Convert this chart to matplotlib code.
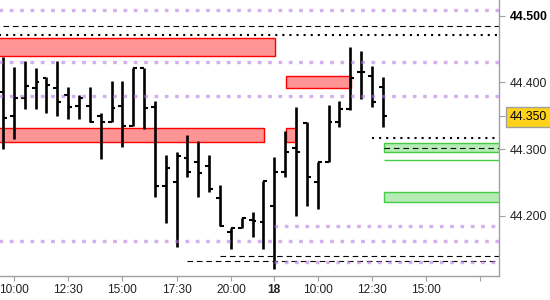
import matplotlib
matplotlib.use("Agg")
import matplotlib.pyplot as plt
from matplotlib.patches import Rectangle

plt.rcParams['font.family'] = ['Liberation Sans', 'DejaVu Sans']

# Barras de 30 minutos (apertura, maximo, minimo, cierre)
apertura = [44.385, 44.349, 44.376, 44.391, 44.406, 44.391, 44.381, 44.364, 44.364, 44.349,
            44.340, 44.364, 44.335, 44.421, 44.363, 44.244, 44.250, 44.286, 44.280, 44.274,
            44.226, 44.175, 44.181, 44.193, 44.190, 44.214, 44.265, 44.302, 44.339, 44.250,
            44.280, 44.340, 44.360, 44.416, 44.410, 44.393]
maximo = [44.438, 44.423, 44.432, 44.421, 44.408, 44.432, 44.393, 44.381, 44.393, 44.354,
          44.402, 44.402, 44.421, 44.421, 44.372, 44.291, 44.296, 44.321, 44.312, 44.291,
          44.246, 44.181, 44.196, 44.205, 44.252, 44.288, 44.327, 44.363, 44.340, 44.280,
          44.366, 44.372, 44.453, 44.447, 44.424, 44.408]
minimo = [44.300, 44.315, 44.360, 44.360, 44.354, 44.349, 44.345, 44.345, 44.340, 44.285,
          44.340, 44.303, 44.335, 44.330, 44.228, 44.189, 44.153, 44.258, 44.228, 44.235,
          44.184, 44.150, 44.181, 44.168, 44.150, 44.120, 44.258, 44.199, 44.214, 44.210,
          44.280, 44.333, 44.358, 44.375, 44.363, 44.333]
cierre = [44.346, 44.376, 44.394, 44.400, 44.396, 44.370, 44.363, 44.376, 44.340, 44.340,
          44.361, 44.335, 44.421, 44.361, 44.244, 44.271, 44.290, 44.265, 44.264, 44.240,
          44.184, 44.181, 44.196, 44.192, 44.252, 44.265, 44.296, 44.296, 44.258, 44.280,
          44.340, 44.360, 44.406, 44.416, 44.370, 44.350]

# Etiquetas del eje x (indice de barra)
pos_tiempo = [1, 6, 11, 16, 21, 25, 29, 34, 39, 44]
etq_tiempo = ['10:00', '12:30', '15:00', '17:30', '20:00', '18', '10:00', '12:30', '15:00', '']

# Niveles horizontales (precio, barra de inicio)
niveles_lila = [44.5086, 44.430, 44.379, 44.162, 44.184, 44.130]
inicio_lila = [-1, -1, -1, -1, 25, 25]
niveles_guion = [44.4845, 44.301, 44.140, 44.132]
inicio_guion = [0, 35.1, 20, 17]
niveles_punto = [44.471, 44.317]
inicio_punto = [-1, 34]

# Zonas (inicio, fin, arriba, abajo)
zonas_rojas = [(-1, 25.07, 44.4665, 44.4395),
               (-1, 24.05, 44.3315, 44.3105),
               (26.05, 32.07, 44.4095, 44.391),
               (26.05, 27.0, 44.3315, 44.3105)]
zonas_verdes = [(35.1, 47, 44.3095, 44.2958),
                (35.1, 47, 44.283, 44.283),
                (35.1, 47, 44.235, 44.220)]

precio_actual = 44.350

fig = plt.figure(figsize=(5.5, 3), dpi=100)
ax = fig.add_axes([0, 24 / 300, 499 / 550, 276 / 300])
x_max = 45.71
ax.set_xlim(-0.28, x_max)
ax.set_ylim(44.1096, 44.5235)

for (x0, x1, y_top, y_bot) in zonas_rojas:
    ax.add_patch(Rectangle((x0, y_bot), x1 - x0, y_top - y_bot, facecolor='#FF9494',
                           edgecolor='#FF0000', linewidth=1.0, zorder=1))
for (x0, x1, y_top, y_bot) in zonas_verdes:
    ax.add_patch(Rectangle((x0, y_bot), x1 - x0, y_top - y_bot, facecolor='#B5EBB5',
                           edgecolor='#44CC44', linewidth=1.0, zorder=1))

# barras OHLC
n = len(cierre)
idx = list(range(n))
ax.vlines(idx, minimo, maximo, color='black', linewidth=1.9, zorder=3)
ax.hlines(apertura, [i - 0.36 for i in idx], idx, color='black', linewidth=1.5, zorder=3)
ax.hlines(cierre, idx, [i + 0.36 for i in idx], color='black', linewidth=1.5, zorder=3)

for nivel, ini in zip(niveles_lila, inicio_lila):
    ax.plot([ini, x_max], [nivel, nivel], color='#B477E0', alpha=0.58, linewidth=2.4,
            linestyle=(0, (1.1, 2.0)), zorder=4)
for nivel, ini in zip(niveles_guion, inicio_guion):
    ax.plot([ini, x_max], [nivel, nivel], color='black', linewidth=0.8,
            linestyle=(0, (5, 3.5)), zorder=2)
for nivel, ini in zip(niveles_punto, inicio_punto):
    ax.plot([ini, x_max], [nivel, nivel], color='black', linewidth=1.5,
            linestyle=(0, (1, 2.4)), zorder=2)

# ejes
for lado in ['left', 'top']:
    ax.spines[lado].set_visible(False)
for lado in ['right', 'bottom']:
    ax.spines[lado].set_color('#A0A0A0')
    ax.spines[lado].set_linewidth(1.0)

ax.set_xticks(pos_tiempo)
ax.set_xticklabels(etq_tiempo)
ax.tick_params(axis='x', colors='#A0A0A0', labelcolor='#222222', length=3.5,
               labelsize=8.6, pad=2.5)
for lab in ax.get_xticklabels():
    if lab.get_text() == '18':
        lab.set_fontweight('bold')

ax.yaxis.tick_right()
ax.set_yticks([44.2, 44.3, precio_actual, 44.4, 44.5])
ax.set_yticklabels(['44.200', '44.300', '44.350', '44.400', '44.500'])
ax.tick_params(axis='y', colors='#A0A0A0', labelcolor='#222222', length=4,
               labelsize=8.8, pad=4)
for tick, val in zip(ax.yaxis.get_major_ticks(), ax.get_yticks()):
    if abs(val - 44.5) < 1e-6:
        tick.label2.set_fontweight('bold')
        tick.label2.set_color('black')
    if abs(val - precio_actual) < 1e-6:
        tick.tick2line.set_color('black')
        tick.label2.set_color('black')
        tick.label2.set_bbox(dict(boxstyle='square,pad=0.35', facecolor='#FFD21A',
                                  edgecolor='#A0A0A0', linewidth=1.0))

fig.savefig('out.png', dpi=100)
